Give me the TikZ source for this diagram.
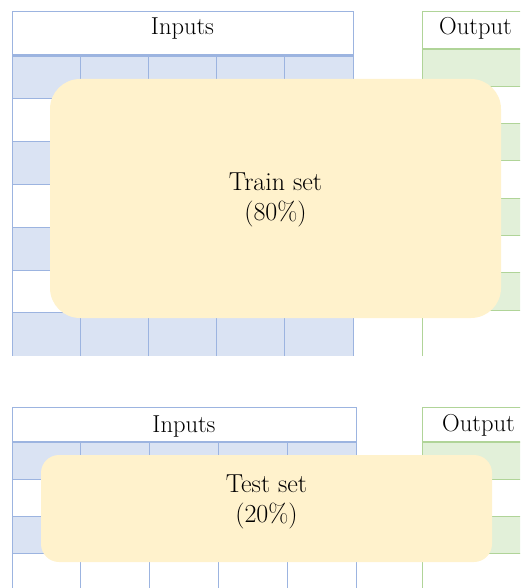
\documentclass[tikz,border=0pt]{standalone}
\begin{document}
\begin{tikzpicture}[x=1pt,y=-1pt,
  bluefill/.style={fill=blueF},
  greenfill/.style={fill=greenF},
  blueline/.style={draw=blueL,line width=1pt},
  greenline/.style={draw=greenL,line width=1pt},
  bluethick/.style={draw=blueL,line width=2.6pt},
  greenthick/.style={draw=greenL,line width=2.6pt},
  setbox/.style={fill=yellowF,draw=none},
  hdr/.style={font=\fontsize{24.5}{28}\selectfont,anchor=base,inner sep=0pt},
  settext/.style={font=\fontsize{26}{29.5}\selectfont,align=center,inner sep=0pt}
]
\definecolor{blueF}{HTML}{DAE3F3}
\definecolor{blueL}{HTML}{9CB4E0}
\definecolor{greenF}{HTML}{E2F0D9}
\definecolor{greenL}{HTML}{B0D498}
\definecolor{yellowF}{HTML}{FFF2CC}
\useasboundingbox (0,0) rectangle (520,588);
\begin{scope}
\clip (0,0) rectangle (520,588);
% ---------- top inputs table ----------
\foreach \k in {0,2,4,6} {
  \fill[bluefill] (12,{55.5+42.9*\k}) rectangle (353,{55.5+42.9*(\k+1)});
}
\foreach \k in {1,...,6} {
  \draw[blueline] (12,{55.5+42.9*\k}) -- (353,{55.5+42.9*\k});
}
\foreach \i in {1,...,4} {
  \draw[blueline] ({12+68.2*\i},55.5) -- ({12+68.2*\i},356);
}
\draw[blueline] (12,356) -- (12,12) -- (353,12) -- (353,356);
\draw[bluethick] (12,55.5) -- (353,55.5);
\node[hdr] (in1) at (182.5,35) {Inputs};
% ---------- top output table ----------
\foreach \k in {0,2,4,6} {
  \fill[greenfill] (422,{49+37.3*\k}) rectangle (530,{49+37.3*(\k+1)});
}
\foreach \k in {1,...,7} {
  \draw[greenline] (422,{49+37.3*\k}) -- (530,{49+37.3*\k});
}
\draw[greenline] (422,356) -- (422,12) -- (530,12);
\draw[greenthick] (422,49) -- (530,49);
\node[hdr] (out1) at (475.5,35) {Output};
% ---------- bottom inputs table ----------
\foreach \k in {0,2} {
  \fill[bluefill] (12,{442+37.3*\k}) rectangle (356,{442+37.3*(\k+1)});
}
\foreach \k in {1,2,3} {
  \draw[blueline] (12,{442+37.3*\k}) -- (356,{442+37.3*\k});
}
\foreach \i in {1,...,4} {
  \draw[blueline] ({12+68.8*\i},442) -- ({12+68.8*\i},600);
}
\draw[blueline] (12,600) -- (12,407) -- (356,407) -- (356,600);
\draw[bluethick] (12,442) -- (356,442);
\node[hdr] (in2) at (184,432) {Inputs};
% ---------- bottom output table ----------
\foreach \k in {0,2} {
  \fill[greenfill] (422,{442+37.3*\k}) rectangle (530,{442+37.3*(\k+1)});
}
\foreach \k in {1,2,3} {
  \draw[greenline] (422,{442+37.3*\k}) -- (530,{442+37.3*\k});
}
\draw[greenline] (422,600) -- (422,407) -- (530,407);
\draw[greenthick] (422,442) -- (530,442);
\node[hdr] (out2) at (478.5,431) {Output};
% ---------- set boxes ----------
\fill[setbox,rounded corners=30pt] (50,79) rectangle (501,318);
\node[settext] (train) at (275.5,200) {Train set\\(80\%)};
\fill[setbox,rounded corners=18pt] (41,455) rectangle (492,562);
\node[settext] (test) at (266.5,502) {Test set\\(20\%)};
\end{scope}
\end{tikzpicture}
\end{document}
